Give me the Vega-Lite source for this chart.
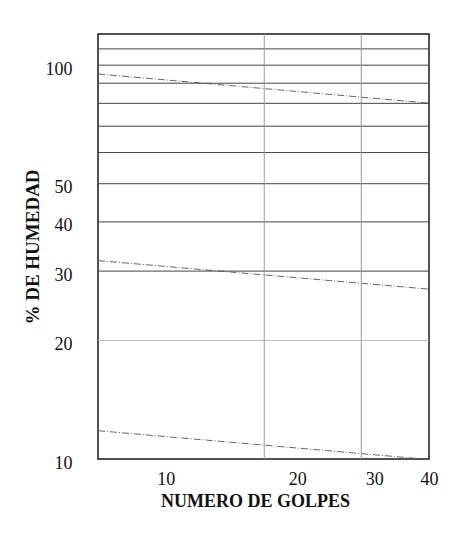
{
  "$schema": "https://vega.github.io/schema/vega-lite/v6.json",
  "width": 331,
  "height": 425,
  "autosize": {"type": "none"},
  "padding": {"left": 98, "top": 34, "right": 47, "bottom": 77},
  "background": "white",
  "config": {
    "view": {"stroke": "#1a1a1a", "strokeWidth": 1.5},
    "font": "Liberation Serif"
  },
  "datasets": {
    "hgrid": [{"humedad": 30}, {"humedad": 40}, {"humedad": 50}, {"humedad": 60}, {"humedad": 70}, {"humedad": 80}, {"humedad": 90}, {"humedad": 100}, {"humedad": 110}],
    "hgridLight": [{"humedad": 20}],
    "vgrid": [{"golpes": 16.8}, {"golpes": 28}],
    "curves": [
      {"serie": "A", "golpes": 7, "humedad": 95.0},
      {"serie": "A", "golpes": 40, "humedad": 80.1},
      {"serie": "B", "golpes": 7, "humedad": 31.9},
      {"serie": "B", "golpes": 40, "humedad": 27.0},
      {"serie": "C", "golpes": 7, "humedad": 11.8},
      {"serie": "C", "golpes": 38.8, "humedad": 10.0}
    ]
  },
  "layer": [
    {
      "data": {"name": "curves"},
      "mark": {"type": "line", "color": "#666", "strokeWidth": 1, "strokeDash": [7, 2, 1, 2], "clip": true},
      "encoding": {
        "x": {
          "field": "golpes", "type": "quantitative",
          "scale": {"type": "log", "domain": [7, 40]},
          "axis": {
            "values": [10, 20, 30, 40],
            "title": "NUMERO DE GOLPES",
            "grid": false, "domain": false, "ticks": false,
            "labelFont": "Liberation Serif", "labelFontSize": 18, "labelColor": "#111",
            "labelPadding": 11, "labelFlush": false, "labelOverlap": false,
            "titleFont": "Liberation Serif", "titleFontSize": 18, "titleFontWeight": "bold",
            "titleColor": "#111", "titlePadding": 4, "titleX": 157
          }
        },
        "y": {
          "field": "humedad", "type": "quantitative",
          "scale": {"type": "log", "domain": [10, 120]},
          "axis": {
            "values": [10, 20, 30, 40, 50, 100],
            "title": "% DE HUMEDAD",
            "grid": false, "domain": false, "ticks": false,
            "labelFont": "Liberation Serif", "labelFontSize": 18, "labelColor": "#111",
            "labelPadding": 26, "labelOffset": 4, "labelOverlap": false,
            "titleFont": "Liberation Serif", "titleFontSize": 19, "titleFontWeight": "bold",
            "titleColor": "#111", "titlePadding": 3
          }
        },
        "detail": {"field": "serie", "type": "nominal"}
      }
    },
    {
      "data": {"name": "hgrid"},
      "mark": {"type": "rule", "color": "#444", "strokeWidth": 1},
      "encoding": {
        "y": {"field": "humedad", "type": "quantitative", "scale": {"type": "log", "domain": [10, 120]}}
      }
    },
    {
      "data": {"name": "hgridLight"},
      "mark": {"type": "rule", "color": "#bbb", "strokeWidth": 1},
      "encoding": {
        "y": {"field": "humedad", "type": "quantitative", "scale": {"type": "log", "domain": [10, 120]}}
      }
    },
    {
      "data": {"name": "vgrid"},
      "mark": {"type": "rule", "color": "#999", "strokeWidth": 1},
      "encoding": {
        "x": {"field": "golpes", "type": "quantitative", "scale": {"type": "log", "domain": [7, 40]}}
      }
    }
  ]
}
